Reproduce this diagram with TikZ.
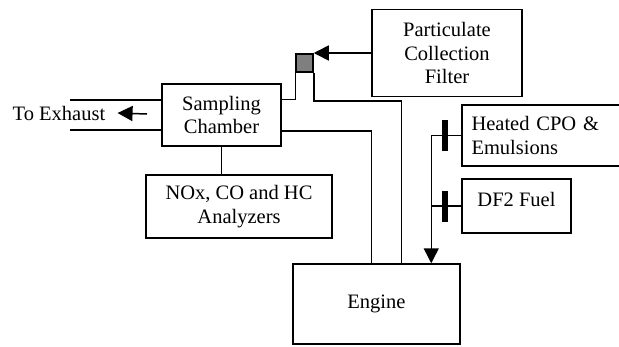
\documentclass[tikz,border=0pt]{standalone}
\usepackage{fontspec}
\setmainfont{Liberation Serif}
\usetikzlibrary{arrows.meta,calc}
\definecolor{trapgray}{HTML}{7F7F7F}

\begin{document}
\begin{tikzpicture}[x=0.6pt,y=-0.6pt,line width=0.9pt,
  font=\rmfamily\fontsize{12.3}{14}\selectfont,
  box/.style={draw,align=center,inner sep=0pt},
  flow/.style={-{Triangle[length=9pt,width=9pt]}},
  valve/.style={fill=black,minimum width=3.6pt,minimum height=18.6pt,inner sep=0pt}]
  \useasboundingbox (0,0) rectangle (619,346);
  % boxes
  \node[box,minimum width=71.4pt,minimum height=37.2pt] (samp) at (221.5,115) {Sampling\\Chamber};
  \node[box,minimum width=111.6pt,minimum height=37.8pt] (anal) at (239,206.5) {NOx, CO and HC\\Analyzers};
  \node[box,minimum width=90pt,minimum height=52.2pt] (part) at (447,53) {Particulate\\Collection\\Filter};
  \node[box,minimum width=98.4pt,minimum height=36.6pt,text width=87pt,align=left,inner xsep=5.7pt] (heat) at (544,135.5) {Heated CPO \&\\Emulsions};
  \node[box,minimum width=65.4pt,minimum height=32.4pt,text height=8pt,text depth=7pt] (df2) at (516.5,206) {DF2 Fuel};
  \node[box,minimum width=100.2pt,minimum height=48pt] (eng) at (376.5,304) {Engine};
  \node[draw,fill=trapgray,minimum width=10.2pt,minimum height=10.8pt,inner sep=0pt] (trap) at (304.5,63) {};
  \node (exh) at (59,113) {To Exhaust};
  % free ends
  \coordinate (ex1) at (70,100);
  \coordinate (ex2) at (70,130);
  \coordinate (exa) at (147,114);
  \coordinate (feed) at ($(eng.north west)+(139,0)$);
  % exhaust
  \draw (ex1) -- (ex1 -| samp.west);
  \draw (ex2) -- (ex2 -| samp.west);
  \draw[flow] (exa) -- ($(exh.east)+(6,0)$);
  % sample lines
  \draw ($(samp.north east)+(0,16)$) -| (trap.south west);
  \draw (trap.south east) -- ++(0,28) -| ($(eng.north west)+(109,0)$);
  \draw ($(samp.south east)+(0,-16)$) -| ($(eng.north west)+(79,0)$);
  \draw (samp.south) -- (samp.south |- anal.north);
  \draw[flow] (part.west) -- (part.west -| trap.east);
  % fuel
  \draw[flow] (heat.west) -| (feed);
  \draw (df2.west) -- (df2.west -| feed);
  \node[valve] (v1) at ($(heat.west)+(-16,0)$) {};
  \node[valve] (v2) at ($(df2.west)+(-16,0)$) {};
\end{tikzpicture}
\end{document}
